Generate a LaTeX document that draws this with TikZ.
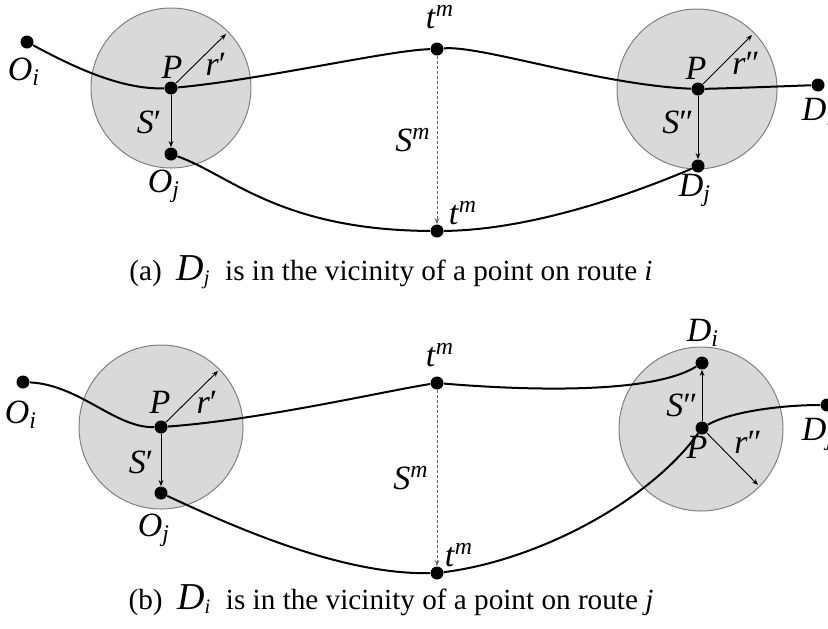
\documentclass[tikz,border=0pt]{standalone}
\usepackage{fontspec}
\setmainfont{Liberation Serif}
\usetikzlibrary{arrows.meta,positioning,calc}
\newcommand{\lsub}[2]{\textit{#1}\textsubscript{\textit{#2}}}
\newcommand{\lsup}[2]{\textit{#1}\textsuperscript{\textit{#2}}}

\begin{document}
\begin{tikzpicture}[
  x=0.5pt,y=-0.5pt,
  font=\fontsize{17}{19}\selectfont,
  dot/.style={circle,fill=black,inner sep=0pt,minimum size=6.5pt},
  lbl/.style={inner sep=0pt},
  zone/.style={draw=black!50,fill=black!15,line width=0.5pt},
  rt/.style={line width=1pt},
  arr/.style={-{Stealth[length=3pt,width=2.4pt]},line width=0.45pt},
  gap/.style={arr,draw=black!60,dash pattern=on 1.5pt off 1pt},
  caption/.style={inner sep=0pt,font=\fontsize{14.6}{16}\selectfont}
]
\useasboundingbox (0,0) rectangle (828,628);
% (a) D_j near route i
\draw[zone] (171,88) circle[radius=80];
\draw[zone] (697,89) circle[radius=80];
\node[dot] (Oia) at (27,42) {};
\node[dot] (Pa) at (171,88) {};
\node[dot] (Oja) at (171,154) {};
\node[dot] (tma) at (437,49) {};
\node[dot] (tmb) at (437,231) {};
\node[dot] (Pb) at (698,89) {};
\node[dot] (Dia) at (818,85) {};
\node[dot] (Dja) at (698,166) {};
\coordinate (ra) at (226,34);
\coordinate (rb) at (752,35);
\draw[rt] (Oia) .. controls (70,65) and (120,90) .. (Pa);
\draw[rt] (Pa) .. controls (260,80) and (390,50) .. (tma) .. controls (480,45) and (600,85) .. (Pb);
\draw[rt] (Pb) .. controls (740,88) and (790,86) .. (Dia);
\draw[rt] (Oja) .. controls (230,175) and (280,230) .. (tmb) .. controls (530,230) and (630,195) .. (Dja);
\draw[arr] (Pa) -- (ra);
\draw[arr] (Pa) -- (Oja);
\draw[arr] (Pb) -- (rb);
\draw[arr] (Pb) -- (Dja);
\draw[gap] (tma) -- (tmb);
\node[lbl] (lOia) at (24,72) {\lsub{O}{i}};
\node[lbl] (lPa) at (172,67) {\textit{P}};
\node[lbl] (lra) at (216,64) {\textit{r}′};
\node[lbl] (lSa) at (149,122) {\textit{S}′};
\node[lbl] (lOja) at (164,186) {\lsub{O}{j}};
\node[lbl] (ltma) at (440,17) {\lsup{t}{m}};
\node[lbl] (lSma) at (413,140) {\lsup{S}{m}};
\node[lbl] (ltmb) at (463,213) {\lsup{t}{m}};
\node[lbl] (lPb) at (696,68) {\textit{P}};
\node[lbl] (lrb) at (746,63) {\textit{r}″};
\node[lbl] (lSb) at (678,122) {\textit{S}″};
\node[lbl] (lDia) at (818,112) {\lsub{D}{i}};
\node[lbl] (lDja) at (695,190) {\lsub{D}{j}};
\node[caption] (capa) at (391,272) {(a)\ \ {\fontsize{19}{20}\selectfont\textit{D}}\textsubscript{\textit{j}}\ \ is in the vicinity of a point on route \textit{i}};
% (b) D_i near route j
\draw[zone] (161,427) circle[radius=82];
\draw[zone] (701,429) circle[radius=82];
\node[dot] (Oib) at (23,382) {};
\node[dot] (Pc) at (161,427) {};
\node[dot] (Ojb) at (161,493) {};
\node[dot] (tmc) at (437,383) {};
\node[dot] (tmd) at (437,573) {};
\node[dot] (Pd) at (702,428) {};
\node[dot] (Dib) at (702,363) {};
\node[dot] (Djb) at (827,405) {};
\coordinate (rc) at (218,371);
\coordinate (rd) at (758,485);
\draw[rt] (Oib) .. controls (80,385) and (115,428) .. (Pc);
\draw[rt] (Pc) .. controls (260,420) and (390,390) .. (tmc) .. controls (520,390) and (650,395) .. (Dib);
\draw[rt] (Ojb) .. controls (230,525) and (340,575) .. (tmd) .. controls (540,560) and (650,500) .. (Pd);
\draw[rt] (Pd) .. controls (730,412) and (780,405) .. (Djb);
\draw[arr] (Pc) -- (rc);
\draw[arr] (Pc) -- (Ojb);
\draw[arr] (Pd) -- (rd);
\draw[arr] (Pd) -- (Dib);
\draw[gap] (tmc) -- (tmd);
\node[lbl] (lOib) at (21,415) {\lsub{O}{i}};
\node[lbl] (lPc) at (160,402) {\textit{P}};
\node[lbl] (lrc) at (207,402) {\textit{r}′};
\node[lbl] (lSc) at (141,462) {\textit{S}′};
\node[lbl] (lOjb) at (154,530) {\lsub{O}{j}};
\node[lbl] (ltmc) at (440,355) {\lsup{t}{m}};
\node[lbl] (lSmb) at (411,478) {\lsup{S}{m}};
\node[lbl] (ltmd) at (459,555) {\lsup{t}{m}};
\node[lbl] (lDib) at (703,333) {\lsub{D}{i}};
\node[lbl] (lSd) at (682,405) {\textit{S}″};
\node[lbl] (lPd) at (697,447) {\textit{P}};
\node[lbl] (lrd) at (748,442) {\textit{r}″};
\node[lbl] (lDjb) at (818,434) {\lsub{D}{j}};
\node[caption] (capb) at (391,600) {(b)\ \ {\fontsize{19}{20}\selectfont\textit{D}}\textsubscript{\textit{i}}\ \ is in the vicinity of a point on route \textit{j}};
\end{tikzpicture}
\end{document}
